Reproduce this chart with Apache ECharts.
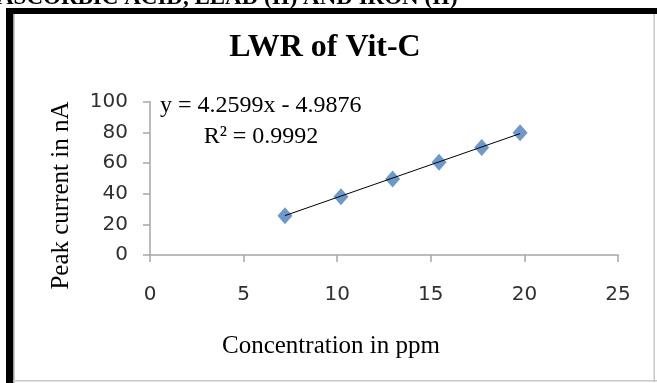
<!DOCTYPE html>
<html><head><meta charset="utf-8">
<script src="https://cdn.jsdelivr.net/npm/echarts@6/dist/echarts.min.js"></script>
<style>html,body{margin:0;padding:0;background:#fff}#c{width:657px;height:383px}</style>
</head><body><div id="c"></div>
<script>
const concentration = [7.21, 10.2, 12.96, 15.44, 17.72, 19.77];
const peakCurrent = [25.6, 38.0, 49.6, 60.5, 70.2, 79.8];
const trendX = [7.21, 19.77];
const trendY = [25.7, 79.2];
const xTicks = [0, 5, 10, 15, 20, 25];
const yTicks = [0, 20, 40, 60, 80, 100];
const titleText = 'LWR of Vit-C';
const headerText = 'ASCORBIC ACID, LEAD (II) AND IRON (II)';
const eqText = 'y = 4.2599x - 4.9876';
const r2Text = 'R² = 0.9992';
const xName = 'Concentration in ppm';
const yName = 'Peak current in nA';

const chart = echarts.init(document.getElementById('c'));
const serif = '"Liberation Serif","Times New Roman",serif';
const sans = '"DejaVu Sans",sans-serif';
const axisCol = '#a6a6a6';
chart.setOption({
  animation: false,
  grid: {left: 150, right: 39, top: 101.7, bottom: 128},
  xAxis: {
    type: 'value', min: xTicks[0], max: xTicks[xTicks.length-1], interval: 5,
    axisLine: {lineStyle: {color: axisCol, width: 1.5}},
    axisTick: {show: true, length: 7, lineStyle: {color: axisCol, width: 1.5}},
    splitLine: {show: false},
    axisLabel: {color: '#303030', fontSize: 20, fontFamily: sans, margin: 30}
  },
  yAxis: {
    type: 'value', min: yTicks[0], max: yTicks[yTicks.length-1], interval: 20,
    axisLine: {show: true, lineStyle: {color: axisCol, width: 1.5}},
    axisTick: {show: true, length: 7, lineStyle: {color: axisCol, width: 1.5}},
    splitLine: {show: false},
    axisLabel: {color: '#303030', fontSize: 20, fontFamily: sans, margin: 22}
  },
  series: [
    {type: 'line', data: trendX.map((x, i) => [x, trendY[i]]), symbol: 'none',
     lineStyle: {color: '#000', width: 1}, z: 3},
    {type: 'scatter', data: concentration.map((x, i) => [x, peakCurrent[i]]),
     symbol: 'diamond', symbolSize: [15, 17], itemStyle: {color: '#4a7ebb'}, z: 2}
  ],
  graphic: [
    {type: 'text', left: -3, top: -13, style: {text: headerText, font: 'bold 23px ' + serif, fill: '#000'}},
    {type: 'rect', shape: {x: 6, y: 8, width: 660, height: 6}, style: {fill: '#000'}},
    {type: 'rect', shape: {x: 6, y: 8, width: 7, height: 380}, style: {fill: '#000'}},
    {type: 'rect', shape: {x: 13, y: 14, width: 1.5, height: 370}, style: {fill: '#9a9a9a'}},
    {type: 'rect', shape: {x: 13, y: 380, width: 645, height: 1.5}, style: {fill: '#c8c8c8'}},
    {type: 'rect', shape: {x: 653.5, y: 14, width: 1.5, height: 368}, style: {fill: '#c8c8c8'}},
    {type: 'text', x: 325, y: 48, style: {text: titleText, font: 'bold 32px ' + serif, fill: '#000', align: 'center', verticalAlign: 'middle'}},
    {type: 'text', x: 160, y: 105.5, style: {text: eqText, font: '24px ' + serif, fill: '#000', align: 'left', verticalAlign: 'middle'}},
    {type: 'text', x: 261, y: 136.5, style: {text: r2Text, font: '24px ' + serif, fill: '#000', align: 'center', verticalAlign: 'middle'}},
    {type: 'text', x: 331, y: 346, style: {text: xName, font: '25px ' + serif, fill: '#000', align: 'center', verticalAlign: 'middle'}},
    {type: 'text', x: 61, y: 195.5, rotation: Math.PI / 2, style: {text: yName, font: '25px ' + serif, fill: '#000', align: 'center', verticalAlign: 'middle'}}
  ]
});
</script></body></html>
